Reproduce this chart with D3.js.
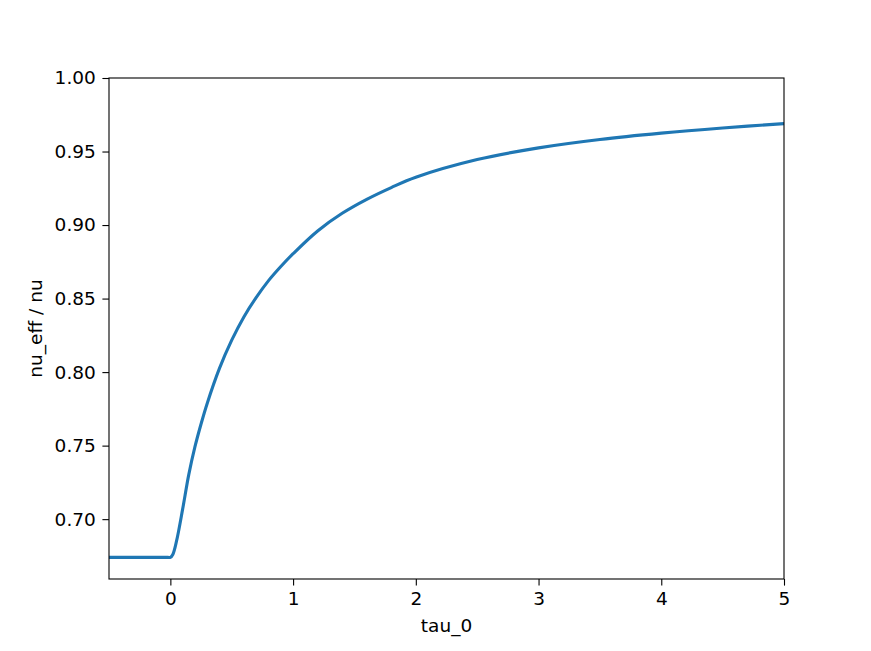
<!DOCTYPE html>
<html>
<head>
<meta charset="utf-8">
<script src="https://cdn.jsdelivr.net/npm/d3@7"></script>
<style>
  body { margin: 0; background: #fff; }
  svg text { font-family: "DejaVu Sans", sans-serif; fill: #000; }
</style>
</head>
<body>
<svg id="chart" width="871" height="651"></svg>
<script>
// values
var tau = [-0.5, -0.25, -0.02, 0, 0.02, 0.05, 0.1, 0.15, 0.2, 0.25, 0.3, 0.4, 0.5, 0.6, 0.7, 0.8, 0.9,
           1.0, 1.2, 1.4, 1.6, 1.8, 2.0, 2.5, 3.0, 3.5, 4.0, 4.5, 5.0];
var ratio = [0.674, 0.674, 0.674, 0.674, 0.676, 0.685, 0.7068, 0.7303, 0.7491, 0.7647, 0.7787, 0.8025, 0.8217,
             0.8377, 0.8508, 0.8622, 0.8718, 0.8805, 0.8960, 0.9080, 0.9175, 0.9255, 0.9325,
             0.9445, 0.9525, 0.9582, 0.9625, 0.9660, 0.9690];
var xTicks = [0, 1, 2, 3, 4, 5];
var yTicks = [0.70, 0.75, 0.80, 0.85, 0.90, 0.95, 1.00];

var svg = d3.select("#chart"),
    width = +svg.attr("width"),
    height = +svg.attr("height");
var margin = {left: 109, right: 87, top: 78, bottom: 72};

var x = d3.scaleLinear().domain([-0.5, 5]).range([margin.left, width - margin.right]);
var y = d3.scaleLinear().domain([0.6593, 1.0]).range([height - margin.bottom, margin.top]);

var data = tau.map(function(t, i) { return {t: t, v: ratio[i]}; });

var line = d3.line()
    .x(function(d) { return x(d.t); })
    .y(function(d) { return y(d.v); })
    .curve(d3.curveCatmullRom.alpha(0.5));

svg.append("defs").append("clipPath").attr("id", "clip")
  .append("rect")
    .attr("x", margin.left).attr("y", margin.top)
    .attr("width", width - margin.left - margin.right)
    .attr("height", height - margin.top - margin.bottom);

svg.append("path")
    .datum(data)
    .attr("clip-path", "url(#clip)")
    .attr("fill", "none")
    .attr("stroke", "#1f77b4")
    .attr("stroke-width", 3.1)
    .attr("stroke-linejoin", "round")
    .attr("d", line);

// frame
svg.append("rect")
    .attr("x", margin.left).attr("y", margin.top)
    .attr("width", width - margin.left - margin.right)
    .attr("height", height - margin.top - margin.bottom)
    .attr("fill", "none")
    .attr("stroke", "#000")
    .attr("stroke-width", 1.1);

var xAxis = svg.append("g")
    .attr("transform", "translate(0," + (height - margin.bottom) + ")")
    .call(d3.axisBottom(x).tickValues(xTicks).tickFormat(d3.format("d"))
      .tickSize(6.6).tickPadding(6.6));

var yAxis = svg.append("g")
    .attr("transform", "translate(" + margin.left + ",0)")
    .call(d3.axisLeft(y).tickValues(yTicks).tickFormat(d3.format(".2f"))
      .tickSize(6.6).tickPadding(6.6));

[xAxis, yAxis].forEach(function(a) {
  a.select(".domain").remove();
  a.selectAll(".tick line").attr("stroke", "#000").attr("stroke-width", 1.1);
  a.selectAll(".tick text").style("font-size", "18.5px");
});

svg.append("text")
    .attr("x", x(2.25))
    .attr("y", 632)
    .attr("text-anchor", "middle")
    .style("font-size", "18.5px")
    .text("tau_0");

svg.append("text")
    .attr("transform", "translate(42," + ((margin.top + height - margin.bottom) / 2) + ") rotate(-90)")
    .attr("text-anchor", "middle")
    .style("font-size", "18.5px")
    .text("nu_eff / nu");
</script>
</body>
</html>
